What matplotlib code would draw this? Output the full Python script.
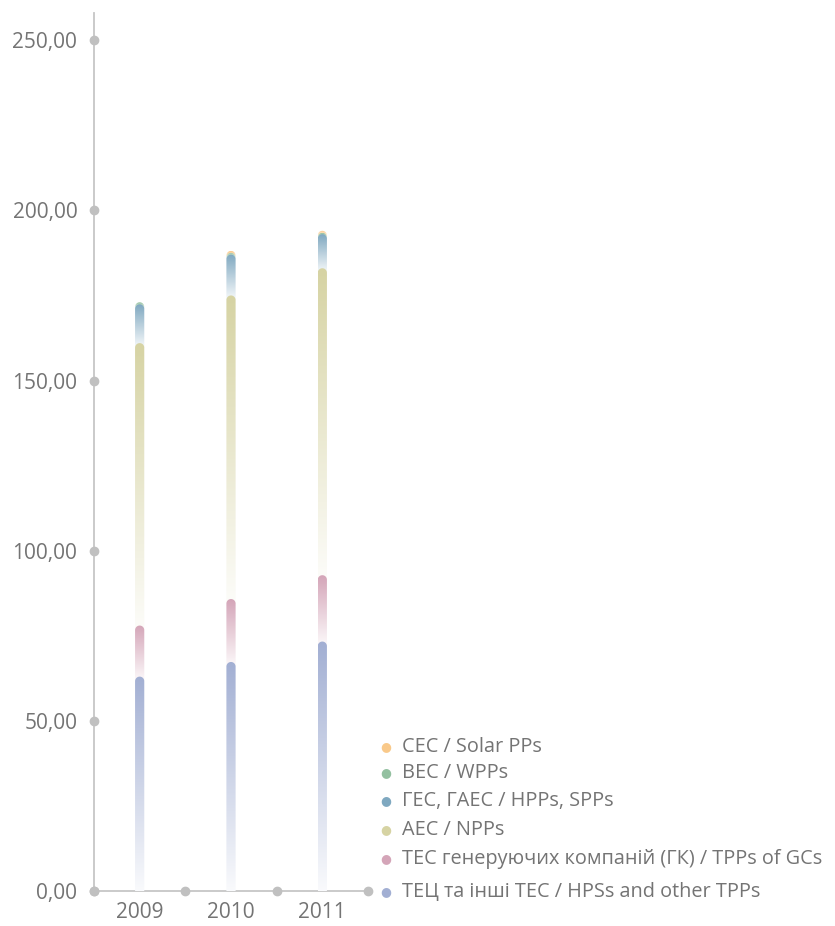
import numpy as np
import matplotlib.pyplot as plt
from matplotlib.patches import Polygon
from matplotlib.colors import to_rgb

plt.rcParams['font.family'] = ['Open Sans', 'DejaVu Sans']

# data (bln kWh)
years = ['2009', '2010', '2011']
tec = [63.0, 67.3, 73.3]          # TEЦ and other TPPs
gk = [15.0, 18.5, 19.5]           # TPPs of generating companies
npp = [83.0, 89.2, 90.2]
hpp = [11.4, 12.0, 10.0]
wpp = [0.6, 0.5, 0.4]
spp = [0.0, 0.6, 0.6]

series = [tec, gk, npp, hpp, wpp, spp]
labels = ['ТЕЦ та інші ТЕС / HPSs and other TPPs',
          'ТЕС генеруючих компаній (ГК) / TPPs of GCs',
          'АЕС / NPPs',
          'ГЕС, ГАЕС / HPPs, SPPs',
          'ВЕС / WPPs',
          'СЕС / Solar PPs']
colors = ['#a2afd3', '#d4a5b8', '#d6d3a3', '#7fa8c0', '#93c0a0', '#f9c98a']
yticks = [0, 50, 100, 150, 200, 250]

grey = '#747474'
axis_grey = '#c6c6c6'

W, H = 835, 926
fig = plt.figure(figsize=(W / 100, H / 100), dpi=100)
ax = fig.add_axes([94 / W, 35 / H, 274 / W, 878 / H])
xmax, ymax = 3, 258

# bar size in data units from pixel sizes
half_w = 4.6 * xmax / 274
ry = 4.6 * ymax / 878

x = np.arange(len(years)) + 0.5
bottoms = np.zeros(len(years))
for k, (vals, col) in enumerate(zip(series, colors)):
    c = np.array(to_rgb(col))
    t = np.linspace(0.06, 1, 256)[:, None]
    grad = (1 - t) * np.ones(3) + t * c
    img = grad[:, None, :]
    for i in range(len(years)):
        if vals[i] <= 0:
            continue
        b = bottoms[i]
        top = b + vals[i]
        th = np.linspace(0, np.pi, 30)
        xs = np.concatenate([[x[i] - half_w, x[i] + half_w],
                             x[i] + half_w * np.cos(th)])
        ys = np.concatenate([[max(b - ry, 0), max(b - ry, 0)],
                             top - ry + ry * np.sin(th)])
        poly = Polygon(np.column_stack([xs, ys]), closed=True,
                       facecolor='none', edgecolor='none')
        ax.add_patch(poly)
        im = ax.imshow(img, extent=(x[i] - half_w, x[i] + half_w, max(b - ry, 0), top),
                       origin='lower', aspect='auto', zorder=10 - k,
                       interpolation='bilinear')
        im.set_clip_path(poly)
    bottoms += np.array(vals)

ax.set_xlim(0, xmax)
ax.set_ylim(0, ymax)

for s in ['top', 'right']:
    ax.spines[s].set_visible(False)
for s in ['left', 'bottom']:
    ax.spines[s].set_color(axis_grey)
    ax.spines[s].set_linewidth(1.3)

ax.set_yticks(yticks)
ax.set_yticklabels([f'{v:.2f}'.replace('.', ',') for v in yticks])
ax.set_xticks(x)
ax.set_xticklabels(years)
ax.tick_params(axis='both', length=0, colors=grey, labelsize=15)
ax.tick_params(axis='y', pad=12)
ax.tick_params(axis='x', pad=8)

# grey dots on the axes
ax.plot(np.zeros(len(yticks)), yticks, 'o', color='#c0c0c0', ms=6,
        clip_on=False, zorder=20)
ax.plot(np.arange(xmax + 1), np.zeros(xmax + 1), 'o', color='#c0c0c0', ms=6,
        clip_on=False, zorder=20)

# legend, top entry first
rows = [747, 773, 801, 830, 859, 892]
for lab, col, yp in zip(labels[::-1], colors[::-1], rows):
    fig.text(386 / W, 1 - yp / H, '●', color=col, fontsize=9,
             ha='center', va='center', family='DejaVu Sans')
    fig.text(402 / W, 1 - yp / H, lab, color=grey, fontsize=14.3,
             ha='left', va='center')

fig.savefig('out.png', dpi=100)
